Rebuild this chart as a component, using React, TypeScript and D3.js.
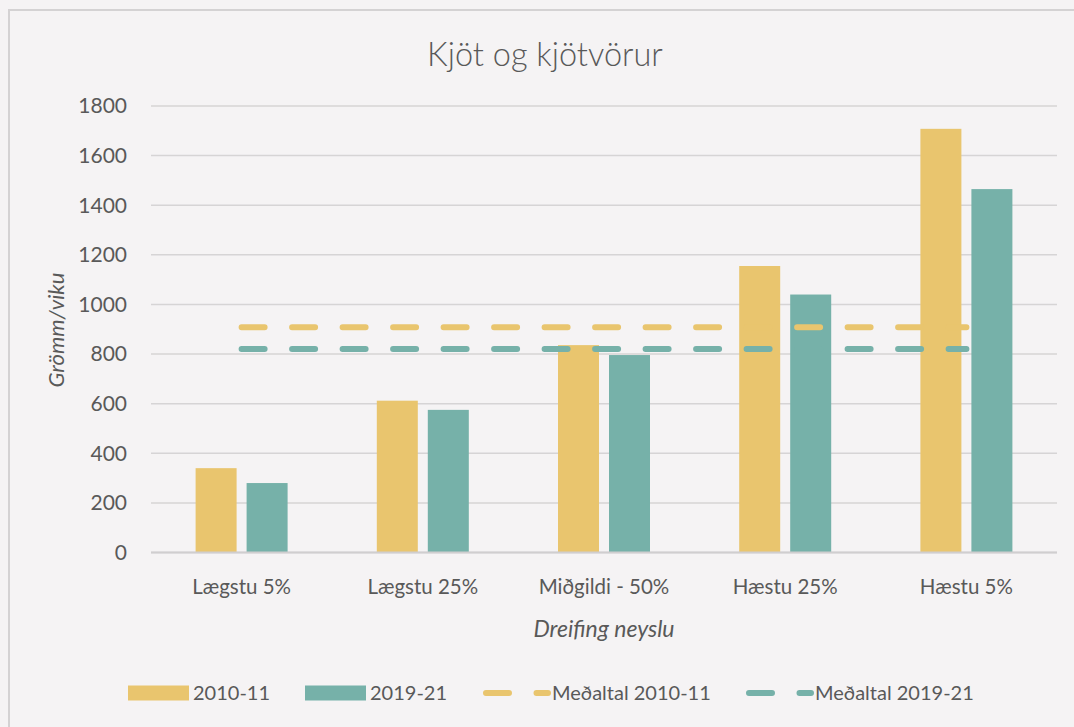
import React, { useEffect, useRef } from "react";
import * as d3 from "d3";

// chart data
const categories = ["Lægstu 5%", "Lægstu 25%", "Miðgildi - 50%", "Hæstu 25%", "Hæstu 5%"];
const seriesNames = ["2010-11", "2019-21"];
const values2010 = [340, 612, 836, 1155, 1708];
const values2019 = [280, 575, 796, 1040, 1465];
const mean2010 = [908, 908, 908, 908, 908];
const mean2019 = [820, 820, 820, 820, 820];
const meanNames = ["Meðaltal 2010-11", "Meðaltal 2019-21"];
const yTicks = [0, 200, 400, 600, 800, 1000, 1200, 1400, 1600, 1800];

const App = () => {
  const ref = useRef<SVGSVGElement | null>(null);

  useEffect(() => {
    const width = 1074;
    const height = 727;
    const margin = { top: 106, right: 17, bottom: 174.5, left: 151 };
    const font = "Lato, 'Noto Sans', sans-serif";
    const textColor = "#595959";
    const colors = ["#E9C56E", "#76B1A9"];

    const svg = d3.select(ref.current);
    svg.selectAll("*").remove();

    // background + frame
    svg.append("rect").attr("width", width).attr("height", height).attr("fill", "#F5F3F4");
    svg
      .append("path")
      .attr("d", `M9,${height} V10 H${width}`)
      .attr("fill", "none")
      .attr("stroke", "#D4D2D3")
      .attr("stroke-width", 2);

    const x0 = d3
      .scaleBand()
      .domain(categories)
      .range([margin.left, width - margin.right]);

    const bw = x0.bandwidth();
    const x1 = d3
      .scaleBand()
      .domain(seriesNames)
      .range([bw / 2 - 46, bw / 2 + 46])
      .paddingInner(10 / 51);

    const y = d3
      .scaleLinear()
      .domain([0, 1800])
      .range([height - margin.bottom, margin.top]);

    // gridlines
    svg
      .append("g")
      .selectAll("line")
      .data(yTicks)
      .join("line")
      .attr("x1", margin.left)
      .attr("x2", width - margin.right)
      .attr("y1", (d) => y(d))
      .attr("y2", (d) => y(d))
      .attr("stroke", "#D6D4D5")
      .attr("stroke-width", 1.5);

    // y tick labels
    svg
      .append("g")
      .selectAll("text")
      .data(yTicks)
      .join("text")
      .attr("x", 127)
      .attr("y", (d) => y(d))
      .attr("dy", "0.35em")
      .attr("text-anchor", "end")
      .attr("font-family", font)
      .attr("font-size", 21)
      .attr("fill", textColor)
      .text((d) => d);

    // bars
    const seriesValues = [values2010, values2019];
    seriesNames.forEach((s, si) => {
      svg
        .append("g")
        .selectAll("rect")
        .data(categories)
        .join("rect")
        .attr("x", (c) => (x0(c) as number) + (x1(s) as number))
        .attr("y", (c, i) => y(seriesValues[si][i]))
        .attr("width", x1.bandwidth())
        .attr("height", (c, i) => y(0) - y(seriesValues[si][i]))
        .attr("fill", colors[si]);
    });

    // x axis line
    svg
      .append("line")
      .attr("x1", margin.left)
      .attr("x2", width - margin.right)
      .attr("y1", y(0))
      .attr("y2", y(0))
      .attr("stroke", "#D0CECF")
      .attr("stroke-width", 2);

    // category labels
    svg
      .append("g")
      .selectAll("text")
      .data(categories)
      .join("text")
      .attr("x", (c) => (x0(c) as number) + bw / 2)
      .attr("y", 587)
      .attr("dy", "0.35em")
      .attr("text-anchor", "middle")
      .attr("font-family", font)
      .attr("font-size", 20.5)
      .attr("fill", textColor)
      .text((d) => d);

    // mean lines
    const meanValues = [mean2010, mean2019];
    const line = d3
      .line<number>()
      .x((d, i) => (x0(categories[i]) as number) + bw / 2)
      .y((d) => y(d));
    meanValues.forEach((m, mi) => {
      svg
        .append("path")
        .datum(m)
        .attr("d", line)
        .attr("fill", "none")
        .attr("stroke", colors[mi])
        .attr("stroke-width", 6)
        .attr("stroke-linecap", "round")
        .attr("stroke-dasharray", "23 27.5");
    });

    // title
    svg
      .append("text")
      .attr("x", 545)
      .attr("y", 66)
      .attr("text-anchor", "middle")
      .attr("font-family", font)
      .attr("font-weight", 300)
      .attr("font-size", 32.5)
      .attr("fill", textColor)
      .text("Kjöt og kjötvörur");

    // axis titles
    svg
      .append("text")
      .attr("x", 604)
      .attr("y", 629)
      .attr("dy", "0.35em")
      .attr("text-anchor", "middle")
      .attr("font-family", font)
      .attr("font-style", "italic")
      .attr("font-size", 23)
      .attr("fill", textColor)
      .text("Dreifing neyslu");

    svg
      .append("text")
      .attr("transform", "translate(56,330) rotate(-90)")
      .attr("dy", "0.35em")
      .attr("text-anchor", "middle")
      .attr("font-family", font)
      .attr("font-style", "italic")
      .attr("font-size", 22)
      .attr("fill", textColor)
      .text("Grömm/viku");

    // legend
    const legendY = 693;
    const legend = svg.append("g");
    const barItems = [128, 305];
    seriesNames.forEach((s, i) => {
      legend
        .append("rect")
        .attr("x", barItems[i])
        .attr("y", legendY - 7.5)
        .attr("width", 61)
        .attr("height", 15)
        .attr("fill", colors[i]);
      legend
        .append("text")
        .attr("x", barItems[i] + 65)
        .attr("y", legendY)
        .attr("dy", "0.35em")
        .attr("font-family", font)
        .attr("font-size", 20)
        .attr("fill", textColor)
        .text(s);
    });
    const lineItems = [486, 749];
    meanNames.forEach((s, i) => {
      legend
        .append("line")
        .attr("x1", lineItems[i])
        .attr("x2", lineItems[i] + 62)
        .attr("y1", legendY)
        .attr("y2", legendY)
        .attr("stroke", colors[i])
        .attr("stroke-width", 6)
        .attr("stroke-linecap", "round")
        .attr("stroke-dasharray", "23 27.5");
      legend
        .append("text")
        .attr("x", lineItems[i] + 66)
        .attr("y", legendY)
        .attr("dy", "0.35em")
        .attr("font-family", font)
        .attr("font-size", 20)
        .attr("fill", textColor)
        .text(s);
    });
  }, []);

  return (
    <svg
      ref={ref}
      width={1074}
      height={727}
      style={{ position: "absolute", left: 0, top: 0 }}
    />
  );
};

export default App;
